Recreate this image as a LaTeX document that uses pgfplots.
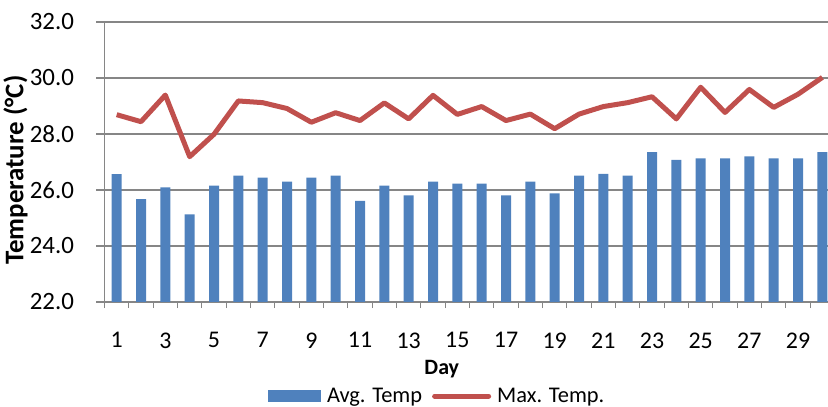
\documentclass[border=0pt]{standalone}
\usepackage{fontspec}
\setmainfont{Carlito}
\usepackage{pgfplots}
\pgfplotsset{compat=1.18}
\definecolor{avgblue}{HTML}{4F81BD}
\definecolor{maxred}{HTML}{C0504D}
\definecolor{gridgray}{HTML}{868686}

\pgfplotstableread{
day avg max
1  26.57 28.69
2  25.67 28.44
3  26.09 29.39
4  25.13 27.19
5  26.16 27.99
6  26.51 29.18
7  26.44 29.12
8  26.30 28.91
9  26.44 28.42
10 26.51 28.76
11 25.61 28.48
12 26.16 29.11
13 25.81 28.54
14 26.30 29.38
15 26.23 28.70
16 26.23 28.98
17 25.81 28.48
18 26.30 28.71
19 25.88 28.19
20 26.51 28.71
21 26.58 28.98
22 26.51 29.12
23 27.35 29.33
24 27.08 28.54
25 27.13 29.67
26 27.13 28.77
27 27.20 29.59
28 27.13 28.95
29 27.13 29.42
30 27.35 30.02
}\temps

\begin{document}
\begin{tikzpicture}
\begin{axis}[
  at={(104.5bp,105bp)}, anchor=south west,
  scale only axis, width=730bp, height=280bp,
  xmin=0.5, xmax=30.5, ymin=22, ymax=32,
  axis x line=bottom, axis y line=left,
  axis line style={-, draw=gridgray, line width=1.3bp},
  ymajorgrids, grid style={draw=gridgray, line width=1.3bp},
  ytick={22,24,...,32},
  xtick={1,3,...,29},
  minor xtick={0.5,1.5,...,30.5},
  tick align=outside,
  major tick length=8bp, minor tick length=6bp,
  xtick style={draw=none},
  ytick style={draw=gridgray, line width=1.3bp},
  minor x tick style={draw=gridgray, line width=1.3bp},
  tick label style={font=\fontsize{24}{28}\selectfont},
  /pgf/number format/assume math mode=true,
  yticklabel style={xshift=-19bp, font=\fontsize{25}{29}\selectfont,
    /pgf/number format/.cd, fixed, fixed zerofill, precision=1},
  xticklabel style={yshift=-19bp},
  xlabel={\textbf{Day}},
  xlabel style={font=\fontsize{22}{26}\selectfont, at={(axis description cs:0.462,-0.241)}, anchor=center},
  ylabel={\textbf{Temperature (°C)}},
  ylabel style={font=\fontsize{27}{32}\selectfont, at={(axis description cs:-0.122,0.471)}, anchor=center, rotate=0},
  legend columns=2,
  legend style={draw=none, fill=none, inner sep=0pt, outer sep=0pt,
    at={(axis description cs:0.224,-0.336)}, anchor=west,
    font=\fontsize{22.5}{26}\selectfont,
    nodes={inner sep=0pt, outer sep=0pt},
    /tikz/every odd column/.style={column sep=6bp},
    /tikz/every even column/.style={column sep=10bp}},
  clip=true,
]
\addplot[ybar, bar width=10bp, bar shift=0pt, fill=avgblue, draw=none,
  legend image code/.code={\fill[avgblue] (0bp,-5.7bp) rectangle (53bp,5.7bp);}]
  table[x=day, y=avg] {\temps};
\addlegendentry{Avg. Temp}
\addplot[maxred, line width=5bp, line join=round,
  legend image code/.code={\draw[maxred, line width=5bp, line cap=round] (1.5bp,0bp) -- (55.5bp,0bp);}]
  table[x=day, y=max] {\temps};
\addlegendentry{Max. Temp.}
\end{axis}
\pgfresetboundingbox
\useasboundingbox (0,0) rectangle (828bp,407bp);
\end{tikzpicture}
\end{document}
